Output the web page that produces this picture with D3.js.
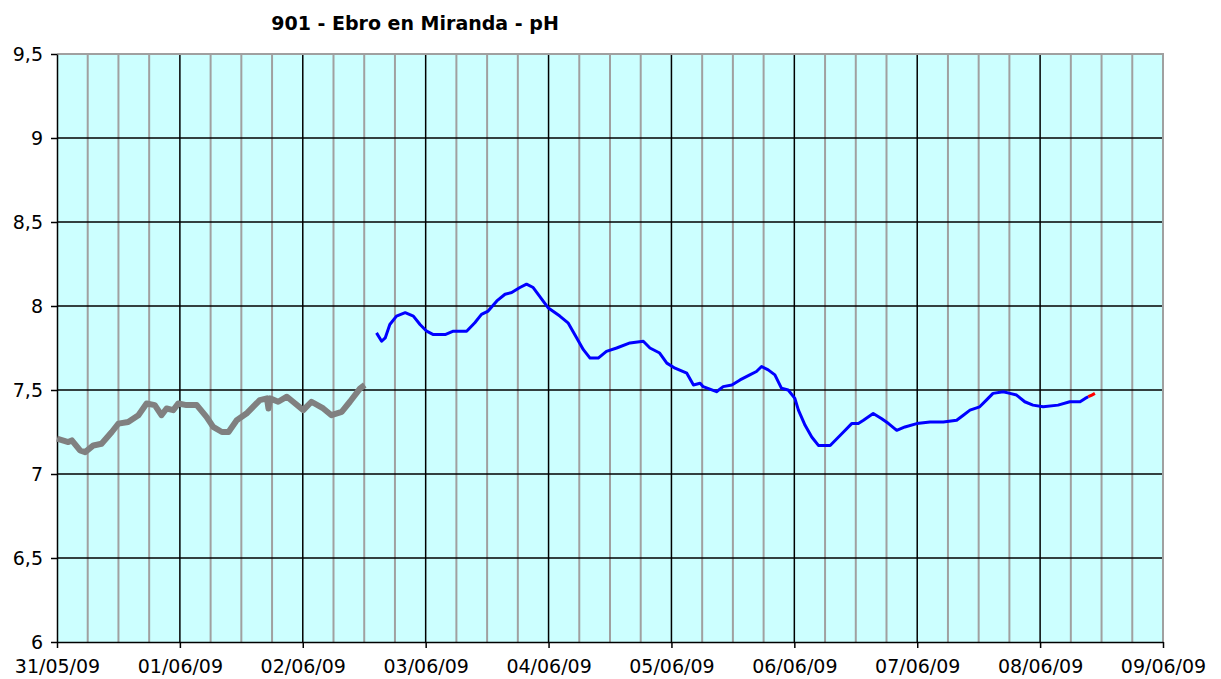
<!DOCTYPE html>
<html>
<head>
<meta charset="utf-8">
<script src="https://cdn.jsdelivr.net/npm/d3@7"></script>
<style>
  body { margin: 0; background: #fff; }
  svg { display: block; font-family: "DejaVu Sans", Verdana, sans-serif; }
</style>
</head>
<body>
<svg id="chart" width="1221" height="679"></svg>
<script>
const margin = {top: 54, right: 58, bottom: 37, left: 57};
const width = 1221, height = 679;

// Series start: 31/05/09 00:00, times in hours from that moment
const startDate = Date.UTC(2009, 4, 31);
const endDate = Date.UTC(2009, 5, 9);

// Validated data (gray)
const grayHours = [0, 2.2, 2.9, 4.5, 5.5, 7.1, 8.7, 10.7, 12.0, 13.9, 15.9, 17.5, 19.1, 20.4, 21.4, 22.7, 23.7,
    25.3, 27.3, 29.2, 30.5, 32.2, 33.5, 35.1, 37.0, 39.6, 41.0, 41.3, 41.6, 43.2, 44.9, 46.1, 48.1,
    49.7, 52.0, 53.6, 55.6, 57.2, 59.2, 60.1];
const grayPH = [7.21, 7.19, 7.20, 7.14, 7.13, 7.17, 7.18, 7.25, 7.30, 7.31, 7.35, 7.42, 7.41, 7.35, 7.39, 7.38, 7.42,
    7.41, 7.41, 7.34, 7.28, 7.25, 7.25, 7.32, 7.36, 7.44, 7.45, 7.39, 7.45, 7.43, 7.46, 7.43, 7.38,
    7.43, 7.39, 7.35, 7.37, 7.43, 7.51, 7.53];

// Provisional data (blue)
const blueHours = [62.4, 63.4, 64.1, 65.0, 66.3, 68.0, 69.6, 70.9, 72.2, 73.5, 75.8, 77.4, 80.0, 81.6, 82.9, 84.2,
    85.9, 87.5, 88.8, 90.4, 91.7, 93.0, 94.7, 95.9, 98.2, 99.8, 101.5, 102.8, 104.1, 105.7, 107.3, 109.3,
    111.9, 114.5, 115.8, 117.7, 119.1, 120.7, 123.0, 124.3, 125.6, 126.2, 128.8, 130.1, 131.8, 133.4,
    135.3, 136.6, 137.6, 138.9, 140.2, 141.5, 142.8, 144.1, 144.8, 146.1, 147.4, 148.7, 151.0, 152.3,
    153.6, 155.2, 156.5, 157.5, 159.4, 161.0, 162.4, 164.0, 165.6, 167.9, 170.5, 173.1, 175.7, 177.0,
    178.3, 180.2, 181.5, 182.8, 184.8, 186.1, 187.4, 189.0, 190.6, 192.6, 195.5, 197.8, 199.8, 200.8, 201.4];
const bluePH = [7.84, 7.79, 7.81, 7.89, 7.94, 7.96, 7.94, 7.89, 7.85, 7.83, 7.83, 7.85, 7.85, 7.90, 7.95, 7.97,
    8.03, 8.07, 8.08, 8.11, 8.13, 8.11, 8.04, 7.99, 7.94, 7.90, 7.81, 7.74, 7.69, 7.69, 7.73, 7.75,
    7.78, 7.79, 7.75, 7.72, 7.66, 7.63, 7.60, 7.53, 7.54, 7.52, 7.49, 7.52, 7.53, 7.56,
    7.59, 7.61, 7.64, 7.62, 7.59, 7.51, 7.50, 7.45, 7.38, 7.29, 7.22, 7.17, 7.17, 7.21,
    7.25, 7.30, 7.30, 7.32, 7.36, 7.33, 7.30, 7.26, 7.28, 7.30, 7.31, 7.31, 7.32, 7.35,
    7.38, 7.40, 7.44, 7.48, 7.49, 7.48, 7.47, 7.43, 7.41, 7.40, 7.41, 7.43, 7.43, 7.45, 7.46];

// Latest data (red)
const redHours = [201.4, 202.1, 202.7];
const redPH = [7.46, 7.47, 7.48];

const yTicks = [6, 6.5, 7, 7.5, 8, 8.5, 9, 9.5];

const toDate = h => new Date(startDate + h * 3600e3);
const series = (hours, ph) => hours.map((h, i) => ({date: toDate(h), value: ph[i]}));

const svg = d3.select("#chart");

const x = d3.scaleUtc()
    .domain([new Date(startDate), new Date(endDate)])
    .range([margin.left, width - margin.right]);
const y = d3.scaleLinear()
    .domain([6, 9.5])
    .range([height - margin.bottom, margin.top]);

// Plot background
svg.append("rect")
    .attr("x", x.range()[0])
    .attr("y", y(9.5))
    .attr("width", x.range()[1] - x.range()[0])
    .attr("height", y(6) - y(9.5))
    .attr("fill", "#ccffff");

// Gridlines: 6-hour gray verticals, daily black verticals, black horizontals
svg.append("g")
    .selectAll("line")
    .data(d3.utcHour.every(6).range(new Date(startDate), new Date(endDate))
        .filter(d => d.getUTCHours() !== 0))
    .join("line")
    .attr("x1", d => x(d)).attr("x2", d => x(d))
    .attr("y1", y(9.5)).attr("y2", y(6))
    .attr("stroke", "#a0a0a0")
    .attr("stroke-width", 2);

svg.append("g")
    .selectAll("line")
    .data(d3.utcDay.range(new Date(startDate + 1), new Date(endDate)))
    .join("line")
    .attr("x1", d => x(d)).attr("x2", d => x(d))
    .attr("y1", y(9.5)).attr("y2", y(6))
    .attr("stroke", "#000")
    .attr("stroke-width", 1.5);

svg.append("g")
    .selectAll("line")
    .data(yTicks.filter(d => d > 6 && d < 9.5))
    .join("line")
    .attr("x1", x.range()[0]).attr("x2", x.range()[1])
    .attr("y1", d => y(d)).attr("y2", d => y(d))
    .attr("stroke", "#000")
    .attr("stroke-width", 1.5);

// Top and right border
svg.append("path")
    .attr("d", `M${x.range()[0]},${y(9.5)}H${x.range()[1]}V${y(6)}`)
    .attr("fill", "none")
    .attr("stroke", "#a0a0a0")
    .attr("stroke-width", 2);

// Axes
const fmt = d3.utcFormat("%d/%m/%y");
const xAxis = d3.axisBottom(x)
    .ticks(d3.utcDay.every(1))
    .tickFormat(fmt)
    .tickSize(6)
    .tickSizeOuter(0)
    .tickPadding(12);
const yAxis = d3.axisLeft(y)
    .tickValues(yTicks)
    .tickFormat(d => String(d).replace(".", ","))
    .tickSize(6)
    .tickSizeOuter(0)
    .tickPadding(8);

svg.append("g")
    .attr("transform", `translate(0,${y(6)})`)
    .call(xAxis)
    .call(g => g.selectAll("line, path").attr("stroke", "#000").attr("stroke-width", 1.5))
    .call(g => g.selectAll("text").attr("font-size", 19).attr("font-family", "DejaVu Sans").attr("fill", "#000"));

svg.append("g")
    .attr("transform", `translate(${x.range()[0]},0)`)
    .call(yAxis)
    .call(g => g.selectAll("line, path").attr("stroke", "#000").attr("stroke-width", 1.5))
    .call(g => g.selectAll("text").attr("font-size", 19).attr("font-family", "DejaVu Sans").attr("fill", "#000"));

// Lines
const line = d3.line()
    .x(d => x(d.date))
    .y(d => y(d.value));

svg.append("path")
    .datum(series(grayHours, grayPH))
    .attr("fill", "none")
    .attr("stroke", "#808080")
    .attr("stroke-width", 6)
    .attr("stroke-linejoin", "round")
    .attr("d", line);

svg.append("path")
    .datum(series(blueHours, bluePH))
    .attr("fill", "none")
    .attr("stroke", "#0000ff")
    .attr("stroke-width", 3)
    .attr("stroke-linejoin", "round")
    .attr("d", line);

svg.append("path")
    .datum(series(redHours, redPH))
    .attr("fill", "none")
    .attr("stroke", "#ff0000")
    .attr("stroke-width", 3)
    .attr("d", line);

// Title
svg.append("text")
    .attr("x", 415)
    .attr("y", 30)
    .attr("text-anchor", "middle")
    .attr("font-size", 19)
    .attr("font-weight", "bold")
    .attr("fill", "#000")
    .text("901 - Ebro en Miranda - pH");
</script>
</body>
</html>
